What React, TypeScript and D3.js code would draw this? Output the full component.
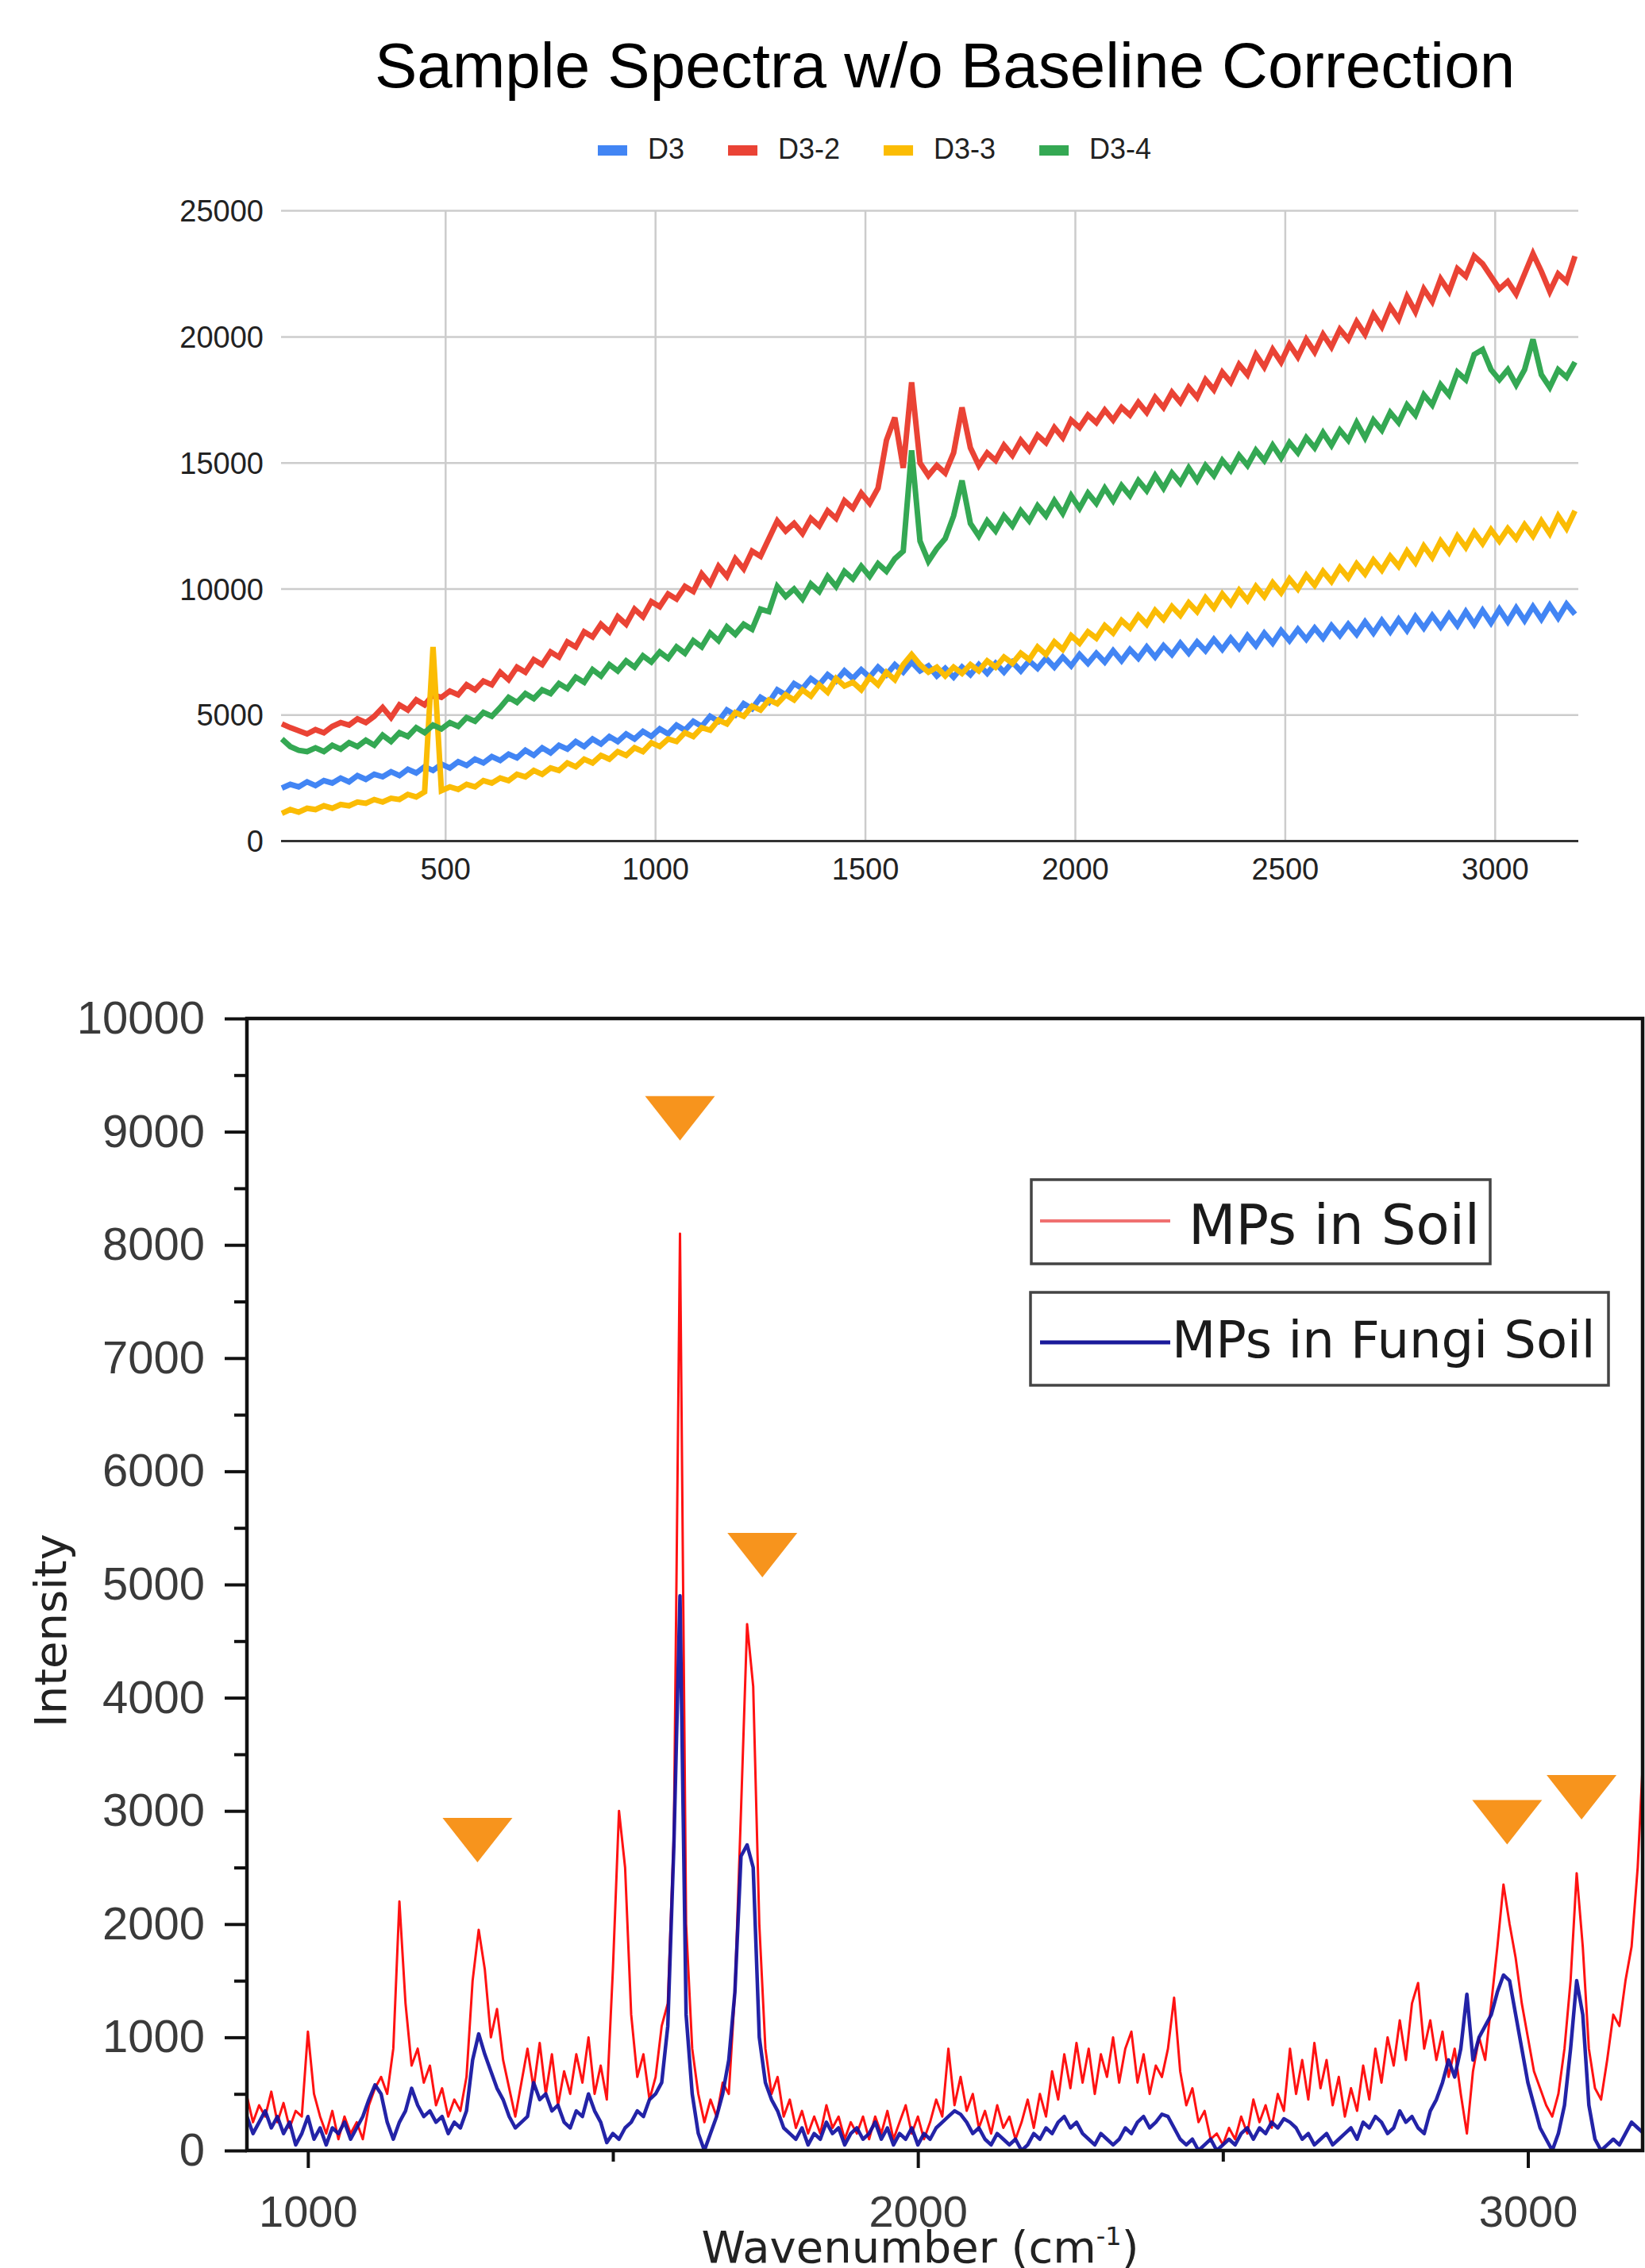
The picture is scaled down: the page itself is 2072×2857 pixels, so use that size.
import { useEffect, useRef } from "react"
import * as d3 from "d3"

const WIDTH = 2072
const HEIGHT = 2857

// ---------- top chart ----------
const topTitle = "Sample Spectra w/o Baseline Correction"
const topSeries = ["D3", "D3-2", "D3-3", "D3-4"]
const topColors = ["#4285f4", "#ea4335", "#fbbc04", "#34a853"]
const topXTicks = [500, 1000, 1500, 2000, 2500, 3000]
const topYTicks = [0, 5000, 10000, 15000, 20000, 25000]

// wavenumbers sampled every 20 cm-1, 110 .. 3190
const topWavenumbers = d3.range(110, 3191, 20)

const d3Values = [
  2100, 2250, 2150, 2350, 2200, 2400, 2300, 2500, 2350, 2600,
  2450, 2650, 2550, 2750, 2600, 2850, 2700, 2950, 2800, 3050,
  2900, 3150, 3000, 3250, 3100, 3350, 3200, 3450, 3300, 3600,
  3400, 3700, 3500, 3800, 3650, 3950, 3750, 4050, 3850, 4150,
  3950, 4250, 4050, 4350, 4150, 4450, 4250, 4600, 4400, 4750,
  4550, 4950, 4750, 5200, 5000, 5450, 5250, 5700, 5500, 6000,
  5800, 6250, 6050, 6450, 6200, 6600, 6350, 6750, 6450, 6800,
  6500, 6900, 6600, 7000, 6700, 7100, 6750, 6950, 6550, 6850,
  6500, 6900, 6600, 7000, 6650, 7050, 6700, 7100, 6750, 7150,
  6850, 7250, 6900, 7300, 6950, 7400, 7050, 7450, 7100, 7550,
  7150, 7600, 7250, 7700, 7300, 7750, 7400, 7850, 7450, 7900,
  7550, 8000, 7600, 8050, 7650, 8150, 7750, 8250, 7850, 8350,
  7950, 8400, 8000, 8450, 8050, 8550, 8150, 8600, 8200, 8700,
  8250, 8750, 8300, 8800, 8350, 8900, 8450, 8950, 8500, 9000,
  8550, 9100, 8600, 9150, 8650, 9200, 8700, 9250, 8750, 9300,
  8800, 9350, 8850, 9400, 9000,
]

const d3_2Values = [
  4650, 4500, 4380, 4250, 4420, 4300, 4550, 4700, 4600, 4850,
  4700, 4950, 5300, 4900, 5400, 5200, 5600, 5400, 5800, 5700,
  5950, 5800, 6200, 6000, 6350, 6200, 6700, 6400, 6900, 6700,
  7200, 7000, 7500, 7300, 7900, 7700, 8300, 8100, 8600, 8300,
  8900, 8600, 9200, 8900, 9500, 9300, 9800, 9600, 10100, 9900,
  10600, 10200, 10900, 10500, 11200, 10800, 11500, 11300, 12000, 12700,
  12300, 12600, 12200, 12800, 12500, 13100, 12800, 13500, 13200, 13800,
  13400, 14000, 15900, 16800, 14800, 18200, 15000, 14500, 14900, 14600,
  15400, 17200, 15600, 14900, 15400, 15100, 15700, 15300, 15900, 15500,
  16100, 15800, 16400, 16000, 16700, 16400, 16900, 16600, 17100, 16700,
  17200, 16900, 17400, 17000, 17600, 17200, 17800, 17400, 18000, 17600,
  18300, 17900, 18600, 18200, 18900, 18500, 19300, 18800, 19500, 19000,
  19700, 19200, 19900, 19400, 20100, 19600, 20300, 19900, 20600, 20100,
  20900, 20400, 21200, 20700, 21600, 21000, 21900, 21400, 22300, 21800,
  22700, 22400, 23200, 22900, 22400, 21900, 22200, 21700, 22500, 23300,
  22600, 21800, 22500, 22200, 23200,
]

const d3_3Values = [
  1100, 1250, 1150, 1300, 1250, 1400, 1300, 1450, 1400, 1550,
  1500, 1650, 1550, 1700, 1650, 1850, 1750, 1950, 7700, 2000,
  2150, 2050, 2250, 2150, 2400, 2300, 2500, 2400, 2650, 2550,
  2800, 2650, 2900, 2800, 3100, 2950, 3250, 3100, 3400, 3250,
  3550, 3400, 3700, 3550, 3900, 3750, 4050, 3950, 4300, 4150,
  4500, 4400, 4800, 4650, 5100, 4950, 5350, 5200, 5600, 5450,
  5800, 5600, 6000, 5750, 6200, 5900, 6450, 6150, 6300, 6000,
  6500, 6200, 6700, 6400, 7000, 7400, 7000, 6700, 6900, 6550,
  6900, 6650, 7000, 6750, 7150, 6900, 7300, 7050, 7450, 7200,
  7700, 7400, 7900, 7600, 8150, 7850, 8300, 8050, 8550, 8250,
  8750, 8450, 8950, 8600, 9150, 8800, 9300, 8950, 9450, 9100,
  9650, 9250, 9800, 9400, 9950, 9550, 10100, 9700, 10250, 9850,
  10400, 10000, 10550, 10150, 10700, 10300, 10850, 10450, 11000, 10600,
  11150, 10750, 11300, 10900, 11500, 11050, 11700, 11250, 11900, 11450,
  12100, 11650, 12250, 11800, 12350, 11900, 12400, 12000, 12550, 12100,
  12700, 12200, 12900, 12400, 13100,
]

const d3_4Values = [
  4050, 3750, 3600, 3550, 3700, 3550, 3800, 3650, 3900, 3750,
  4000, 3800, 4200, 3950, 4300, 4150, 4500, 4300, 4600, 4450,
  4700, 4550, 4900, 4750, 5100, 4950, 5300, 5700, 5500, 5850,
  5650, 6000, 5850, 6250, 6050, 6500, 6300, 6800, 6550, 7000,
  6750, 7150, 6900, 7350, 7100, 7500, 7250, 7700, 7450, 7950,
  7700, 8250, 7950, 8500, 8200, 8600, 8400, 9200, 9100, 10100,
  9700, 10000, 9600, 10200, 9900, 10500, 10100, 10700, 10400, 10900,
  10500, 11000, 10700, 11200, 11500, 15500, 11900, 11100, 11600, 12000,
  12900, 14300, 12600, 12100, 12700, 12300, 12900, 12500, 13100, 12700,
  13300, 12900, 13500, 13000, 13700, 13200, 13800, 13400, 14000, 13500,
  14100, 13700, 14300, 13900, 14500, 14000, 14600, 14200, 14800, 14300,
  14900, 14500, 15100, 14700, 15300, 14900, 15500, 15100, 15700, 15200,
  15800, 15400, 16000, 15600, 16200, 15700, 16300, 15900, 16600, 16000,
  16700, 16300, 17000, 16600, 17300, 16900, 17700, 17300, 18100, 17700,
  18600, 18300, 19300, 19500, 18700, 18300, 18700, 18100, 18700, 19900,
  18500, 18000, 18700, 18400, 19000,
]

const topValues = [d3Values, d3_2Values, d3_3Values, d3_4Values]

// ---------- bottom chart ----------
const bottomSeries = ["MPs in Soil", "MPs in Fungi Soil"]
const bottomXTicks = [1000, 2000, 3000]
const bottomXMinor = [1500, 2500]
const bottomYTicks = d3.range(0, 10001, 1000)
const bottomYMinor = d3.range(500, 10000, 1000)

// wavenumbers sampled every 10 cm-1, 900 .. 3190
const bottomWavenumbers = d3.range(900, 3191, 10)

const soilValues = [
  480, 250, 400, 300, 520, 250, 420, 200, 350, 300,
  1050, 500, 300, 150, 350, 100, 300, 150, 250, 100,
  400, 550, 650, 500, 900, 2200, 1300, 750, 900, 600,
  750, 400, 550, 300, 450, 350, 650, 1500, 1950, 1600,
  1000, 1250, 800, 550, 300, 600, 900, 550, 950, 500,
  850, 400, 700, 500, 850, 600, 1000, 500, 750, 450,
  1600, 3000, 2500, 1200, 650, 850, 450, 650, 1100, 1300,
  2800, 8100, 2000, 900, 500, 250, 450, 300, 600, 500,
  1400, 3000, 4650, 4100, 2000, 900, 500, 650, 300, 450,
  200, 350, 150, 300, 150, 400, 200, 300, 100, 250,
  150, 300, 100, 300, 150, 350, 100, 250, 400, 150,
  300, 100, 250, 450, 300, 900, 400, 650, 350, 500,
  200, 350, 150, 400, 200, 300, 100, 250, 450, 200,
  500, 300, 700, 450, 850, 550, 950, 600, 900, 500,
  850, 650, 1000, 600, 900, 1050, 600, 850, 500, 750,
  650, 900, 1350, 700, 400, 550, 250, 350, 100, 150,
  50, 200, 100, 300, 150, 450, 250, 400, 200, 500,
  350, 900, 500, 800, 450, 950, 550, 800, 400, 650,
  300, 550, 350, 750, 450, 900, 600, 1000, 750, 1150,
  800, 1300, 1480, 900, 1150, 800, 1050, 650, 900, 500,
  150, 700, 1000, 800, 1300, 1800, 2350, 2000, 1700, 1300,
  1000, 700, 550, 400, 300, 500, 900, 1500, 2450, 1800,
  900, 550, 450, 800, 1200, 1100, 1500, 1800, 2500, 3600,
]

const fungiSoilValues = [
  300, 150, 250, 350, 200, 300, 150, 250, 50, 150,
  300, 100, 200, 50, 200, 150, 250, 100, 200, 300,
  450, 580, 500, 250, 100, 250, 350, 550, 400, 300,
  350, 250, 300, 150, 250, 200, 350, 800, 1030, 850,
  700, 550, 450, 300, 200, 250, 300, 600, 450, 500,
  350, 400, 250, 200, 350, 300, 500, 350, 250, 70,
  150, 100, 200, 250, 350, 300, 450, 500, 600, 1100,
  2700, 4900, 1200, 500, 150, 0, 150, 300, 500, 800,
  1400, 2600, 2700, 2500, 1000, 600, 450, 350, 200, 150,
  100, 200, 50, 150, 100, 250, 150, 200, 50, 150,
  200, 100, 150, 250, 100, 200, 50, 150, 100, 200,
  50, 150, 100, 200, 250, 300, 350, 320, 250, 150,
  200, 100, 50, 150, 100, 50, 100, 0, 50, 150,
  100, 200, 150, 250, 300, 200, 250, 150, 100, 50,
  150, 100, 50, 100, 200, 150, 250, 300, 200, 250,
  320, 300, 200, 100, 50, 100, 0, 50, 100, 0,
  50, 100, 50, 150, 200, 100, 200, 150, 250, 200,
  280, 250, 200, 100, 150, 50, 100, 150, 50, 100,
  150, 200, 100, 250, 200, 300, 250, 150, 200, 350,
  250, 300, 200, 150, 350, 450, 600, 800, 650, 900,
  1380, 800, 1000, 1100, 1200, 1400, 1550, 1500, 1200, 900,
  600, 400, 200, 100, 0, 150, 400, 900, 1500, 1200,
  400, 100, 0, 50, 100, 50, 150, 250, 200, 150,
]

// orange peak markers (wavenumber, intensity of marker centre)
const peakMarkerX = [1278, 1610, 1745, 2966, 3088]
const peakMarkerY = [2742, 9119, 5259, 2900, 3120]

export default function App() {
  const svgRef = useRef<SVGSVGElement>(null)

  useEffect(() => {
    const svg = d3.select(svgRef.current)
    svg.selectAll("*").remove()

    svg.append("rect").attr("width", WIDTH).attr("height", HEIGHT).attr("fill", "#fff")

    // ===== top chart =====
    const x = d3.scaleLinear().domain([108, 3198]).range([354, 1988])
    const y = d3.scaleLinear().domain([0, 25000]).range([1059.5, 265.6])

    const top = svg.append("g").style("font-family", "'Liberation Sans', Arial, sans-serif")

    top.append("text")
      .attr("x", 1190)
      .attr("y", 110)
      .attr("text-anchor", "middle")
      .attr("font-size", 80)
      .attr("fill", "#000")
      .text(topTitle)

    // legend
    let lx = 753
    topSeries.forEach((name, i) => {
      top.append("rect")
        .attr("x", lx).attr("y", 183)
        .attr("width", 37).attr("height", 13)
        .attr("fill", topColors[i])
      const t = top.append("text")
        .attr("x", lx + 63).attr("y", 200)
        .attr("font-size", 36)
        .attr("fill", "#222")
        .text(name)
      const w = (t.node() as SVGTextElement).getComputedTextLength()
      lx = lx + 63 + w + 55
    })

    // grid lines
    top.append("g").selectAll("line")
      .data(topXTicks)
      .join("line")
      .attr("x1", d => x(d)).attr("x2", d => x(d))
      .attr("y1", y(25000)).attr("y2", y(0))
      .attr("stroke", "#cccccc").attr("stroke-width", 2.5)

    top.append("g").selectAll("line")
      .data(topYTicks.filter(d => d > 0))
      .join("line")
      .attr("x1", x.range()[0]).attr("x2", x.range()[1])
      .attr("y1", d => y(d)).attr("y2", d => y(d))
      .attr("stroke", "#cccccc").attr("stroke-width", 2.5)

    // tick labels
    top.append("g").selectAll("text")
      .data(topYTicks)
      .join("text")
      .attr("x", 332).attr("y", d => y(d))
      .attr("dy", "0.36em")
      .attr("text-anchor", "end")
      .attr("font-size", 38)
      .attr("fill", "#222")
      .text(d => d)

    top.append("g").selectAll("text")
      .data(topXTicks)
      .join("text")
      .attr("x", d => x(d)).attr("y", 1108)
      .attr("text-anchor", "middle")
      .attr("font-size", 38)
      .attr("fill", "#222")
      .text(d => d)

    // series (thick stroke so the noisy traces read as bands, as in the original)
    const topLine = d3.line<number>()
      .x((d, i) => x(topWavenumbers[i]))
      .y(d => y(d))

    topValues.forEach((vals, i) => {
      top.append("path")
        .attr("d", topLine(vals))
        .attr("fill", "none")
        .attr("stroke", topColors[i])
        .attr("stroke-width", 7)
        .attr("stroke-linejoin", "miter")
        .attr("stroke-miterlimit", 3)
    })

    // baseline
    top.append("line")
      .attr("x1", x.range()[0]).attr("x2", x.range()[1])
      .attr("y1", y(0)).attr("y2", y(0))
      .attr("stroke", "#333").attr("stroke-width", 3)

    // ===== bottom chart =====
    const bx = d3.scaleLinear().domain([900, 3192]).range([311, 2072])
    const by = d3.scaleLinear().domain([0, 10000]).range([2709, 1283])

    const bottom = svg.append("g")

    bottom.append("defs").append("clipPath").attr("id", "plotClip")
      .append("rect")
      .attr("x", 311).attr("y", 1283)
      .attr("width", 2069 - 311).attr("height", 2709 - 1283)

    const bLine = d3.line<number>()
      .x((d, i) => bx(bottomWavenumbers[i]))
      .y(d => by(d))

    const plot = bottom.append("g").attr("clip-path", "url(#plotClip)")

    plot.append("path")
      .attr("d", bLine(soilValues))
      .attr("fill", "none")
      .attr("stroke", "#ff1212")
      .attr("stroke-width", 3)
      .attr("stroke-linejoin", "round")

    plot.append("path")
      .attr("d", bLine(fungiSoilValues))
      .attr("fill", "none")
      .attr("stroke", "#1010a0")
      .attr("stroke-width", 4.5)
      .attr("stroke-opacity", 0.92)
      .attr("stroke-linejoin", "round")

    // peak markers
    bottom.append("g").selectAll("path")
      .data(peakMarkerX)
      .join("path")
      .attr("d", "M-44,-28L44,-28L0,28Z")
      .attr("transform", (d, i) => `translate(${bx(d)},${by(peakMarkerY[i])})`)
      .attr("fill", "#f7941d")

    // frame
    bottom.append("rect")
      .attr("x", 311).attr("y", 1283)
      .attr("width", 2069 - 311).attr("height", 2709 - 1283)
      .attr("fill", "none")
      .attr("stroke", "#111")
      .attr("stroke-width", 4.5)

    const tickFont = "'Liberation Sans', Arial, sans-serif"

    // y axis
    const yAxis = bottom.append("g")
      .attr("transform", "translate(311,0)")
      .call(d3.axisLeft(by).tickValues(bottomYTicks).tickSize(28).tickPadding(25).tickFormat(d3.format("d")))
    yAxis.select(".domain").remove()
    yAxis.selectAll("line").attr("stroke", "#111").attr("stroke-width", 4)
    yAxis.selectAll("text")
      .attr("font-size", 58)
      .attr("font-family", tickFont)
      .attr("fill", "#3a3a3a")

    const yMinor = bottom.append("g")
      .attr("transform", "translate(311,0)")
      .call(d3.axisLeft(by).tickValues(bottomYMinor).tickSize(16).tickFormat(() => ""))
    yMinor.select(".domain").remove()
    yMinor.selectAll("line").attr("stroke", "#111").attr("stroke-width", 4)

    // x axis
    const xAxis = bottom.append("g")
      .attr("transform", "translate(0,2709)")
      .call(d3.axisBottom(bx).tickValues(bottomXTicks).tickSize(22).tickPadding(34).tickFormat(d3.format("d")))
    xAxis.select(".domain").remove()
    xAxis.selectAll("line").attr("stroke", "#111").attr("stroke-width", 4)
    xAxis.selectAll("text")
      .attr("font-size", 56)
      .attr("font-family", tickFont)
      .attr("fill", "#3a3a3a")

    const xMinor = bottom.append("g")
      .attr("transform", "translate(0,2709)")
      .call(d3.axisBottom(bx).tickValues(bottomXMinor).tickSize(14).tickFormat(() => ""))
    xMinor.select(".domain").remove()
    xMinor.selectAll("line").attr("stroke", "#111").attr("stroke-width", 4)

    // axis titles
    const titleFont = "'DejaVu Sans', Verdana, sans-serif"
    bottom.append("text")
      .attr("transform", "translate(83,2054) rotate(-90)")
      .attr("text-anchor", "middle")
      .attr("font-family", titleFont)
      .attr("font-size", 56)
      .attr("fill", "#222")
      .text("Intensity")

    const xt = bottom.append("text")
      .attr("x", 1159).attr("y", 2850)
      .attr("text-anchor", "middle")
      .attr("font-family", titleFont)
      .attr("font-size", 56)
      .attr("fill", "#222")
    xt.append("tspan").text("Wavenumber (cm")
    xt.append("tspan").attr("dy", -22).attr("font-size", 32).text("-1")
    xt.append("tspan").attr("dy", 22).text(")")

    // legend boxes
    const legendBoxes = [
      { x: 1299, y: 1486, w: 578, h: 106, lineY: 1538, color: "#f07070", lw: 4, tx: 1497, ty: 1567, fs: 69 },
      { x: 1298, y: 1628, w: 728, h: 117, lineY: 1691, color: "#1a1a9a", lw: 5, tx: 1476, ty: 1710, fs: 64 },
    ]
    legendBoxes.forEach((b, i) => {
      bottom.append("rect")
        .attr("x", b.x).attr("y", b.y)
        .attr("width", b.w).attr("height", b.h)
        .attr("fill", "#fff")
        .attr("stroke", "#444")
        .attr("stroke-width", 3.5)
      bottom.append("line")
        .attr("x1", 1310).attr("x2", 1474)
        .attr("y1", b.lineY).attr("y2", b.lineY)
        .attr("stroke", b.color)
        .attr("stroke-width", b.lw)
      bottom.append("text")
        .attr("x", b.tx).attr("y", b.ty)
        .attr("font-family", titleFont)
        .attr("font-size", b.fs)
        .attr("fill", "#1a1a1a")
        .text(bottomSeries[i])
    })
  }, [])

  return (
    <svg
      ref={svgRef}
      width={WIDTH}
      height={HEIGHT}
      style={{ position: "absolute", left: 0, top: 0 }}
    />
  )
}
